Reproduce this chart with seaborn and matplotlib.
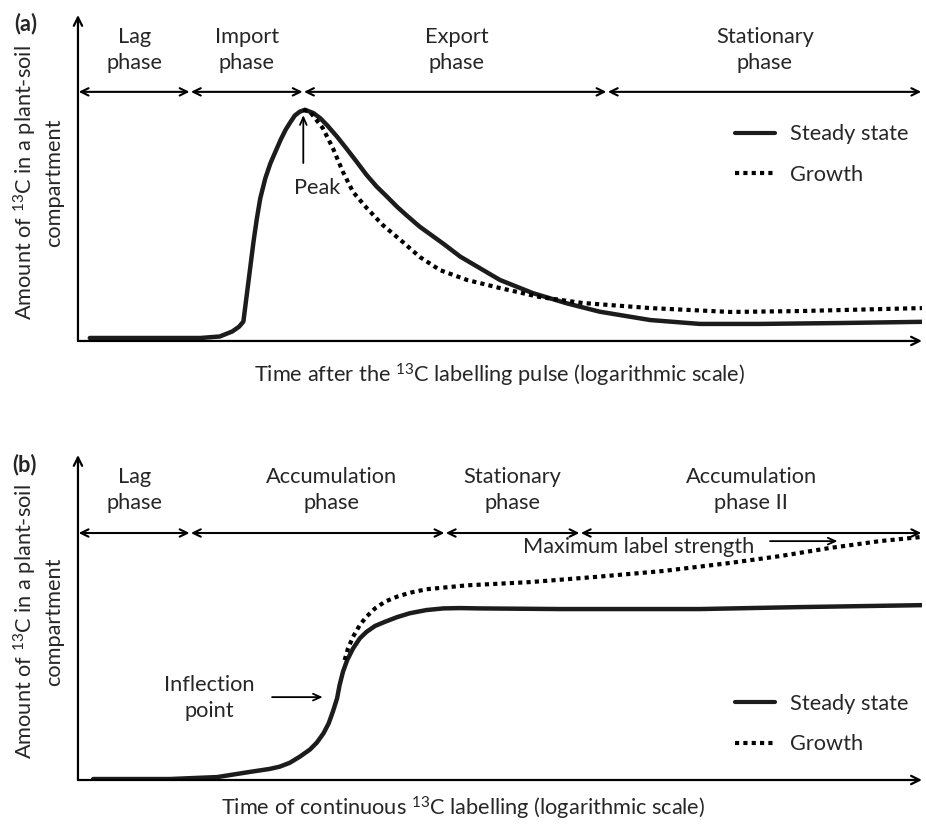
import matplotlib
matplotlib.use('Agg')
import matplotlib.pyplot as plt
import pandas as pd
import seaborn as sns

sns.set_theme(style='white')
plt.rcParams['font.family'] = ['Lato', 'DejaVu Sans']
plt.rcParams['mathtext.fontset'] = 'custom'
plt.rcParams['mathtext.rm'] = 'Lato'
plt.rcParams['mathtext.default'] = 'regular'

# (a) pulse labelling - arbitrary units (time 0..100, amount 0..109)
pulse_t = [1.4, 8.5, 14.5, 16.8, 18.3, 19.1, 19.6, 20.0, 20.4, 20.8, 21.2, 21.6, 22.2,
           22.8, 23.4, 24.0, 24.6, 25.2, 25.7, 26.3, 26.9, 27.9, 28.7, 29.5, 30.7,
           31.8, 33.0, 34.2, 35.4, 36.6, 37.8, 38.9, 40.5, 43.3, 45.3, 50.0, 53.9,
           57.9, 61.8, 67.8, 73.7, 80.8, 90.3, 100]
pulse_steady = [1.0, 1.0, 1.0, 1.5, 3.2, 4.8, 6.5, 15.4, 24.3, 33.2, 41.0, 47.7, 54.4,
                59.4, 63.3, 67.2, 70.6, 73.3, 75.4, 76.7, 77.3, 76.2, 74.5, 72.2, 68.3,
                64.4, 60.0, 55.5, 51.6, 48.3, 44.9, 42.1, 38.2, 32.5, 28.2, 20.4, 16.0,
                12.6, 9.8, 7.0, 5.7, 5.7, 6.0, 6.4]
pulse_growth_t = [26.7, 27.5, 29.0, 30.2, 31.4, 32.6, 34.2, 36.1, 38.2, 40.5, 42.9, 46.1,
                  50.0, 54.7, 59.8, 67.8, 77.3, 85.5, 100]
pulse_growth = [77.3, 76.6, 71.2, 64.5, 56.5, 49.8, 44.5, 38.8, 33.8, 28.1, 23.7, 20.4,
                17.7, 14.7, 12.7, 11.0, 9.7, 10.0, 11.0]
pulse_bounds = [0, 13.3, 26.7, 62.7, 100]
pulse_phases = ['Lag\nphase', 'Import\nphase', 'Export\nphase', 'Stationary\nphase']
pulse_label_x = [6.65, 20.0, 44.9, 81.4]

# (b) continuous labelling
cont_t = [1.8, 10.9, 16.5, 20.4, 22.7, 23.9, 25.1, 26.3, 27.5, 28.3, 29.1, 29.7, 30.2,
          30.7, 31.0, 31.4, 31.9, 32.6, 33.4, 34.2, 35.2, 36.4, 37.8, 39.3, 41.3, 43.3,
          45.3, 47.6, 57.1, 66.6, 73.7, 85.5, 100]
cont_steady = [0.3, 0.3, 0.9, 2.5, 3.4, 4.1, 5.3, 7.2, 9.4, 11.5, 14.4, 17.4, 21.0,
               25.1, 29.2, 33.3, 36.9, 40.5, 43.6, 45.6, 47.4, 48.7, 50.1, 51.3, 52.3,
               52.8, 52.9, 52.8, 52.6, 52.6, 52.6, 53.2, 53.8]
cont_growth_t = [31.6, 32.0, 32.6, 33.4, 34.2, 35.2, 36.4, 37.8, 39.3, 41.3, 43.7, 46.1,
                 53.6, 61.4, 69.3, 77.3, 83.2, 89.1, 95.0, 100]
cont_growth = [36.9, 40.5, 44.1, 47.7, 50.3, 52.8, 54.9, 56.4, 57.6, 58.7, 59.3, 59.9,
               60.9, 62.5, 64.3, 66.8, 68.9, 71.4, 73.5, 74.8]
cont_bounds = [0, 13.3, 43.5, 59.5, 100]
cont_phases = ['Lag\nphase', 'Accumulation\nphase', 'Stationary\nphase', 'Accumulation\nphase II']
cont_label_x = [6.65, 30.0, 51.5, 79.75]

FS = 15.7
LS = 1.35
INK = '#1c1c1c'
dots = (0, (1, 1))
head = '->,head_length=0.45,head_width=0.2'

fig = plt.figure(figsize=(9.26, 8.24), dpi=100)
ax_a = fig.add_axes([0.0842, 0.5862, 0.9114, 0.3956])
ax_b = fig.add_axes([0.0842, 0.0534, 0.9114, 0.3944])


def draw_panel(ax, ytop, t, steady, gt, growth, bounds, phases, label_x, phase_y,
               label_y, leg_y):
    df_s = pd.DataFrame({'t': t, 'v': steady})
    df_g = pd.DataFrame({'t': gt, 'v': growth})
    sns.lineplot(data=df_s, x='t', y='v', ax=ax, color=INK, lw=3.2, estimator=None,
                 sort=False, label='Steady state')
    sns.lineplot(data=df_g, x='t', y='v', ax=ax, color='black', lw=3.0, estimator=None,
                 sort=False, linestyle=dots, label='Growth')
    for line in ax.get_lines():
        line.set_solid_capstyle('round')
        line.set_solid_joinstyle('round')
        line.set_dash_capstyle('butt')
    ax.set_xlim(0, 100)
    ax.set_ylim(0, ytop)
    ax.set_xlabel('')
    ax.set_ylabel('')
    ax.set_xticks([])
    ax.set_yticks([])
    for s in ax.spines.values():
        s.set_visible(False)
    ax.patch.set_alpha(0)

    # axes with arrow heads
    ax.annotate('', xy=(0, ytop), xytext=(0, 0), annotation_clip=False,
                arrowprops=dict(arrowstyle='->,head_length=0.5,head_width=0.25', lw=1.6,
                                color='black', shrinkA=0, shrinkB=0))
    ax.annotate('', xy=(100, 0), xytext=(0, 0), annotation_clip=False,
                arrowprops=dict(arrowstyle='->,head_length=0.5,head_width=0.25', lw=1.6,
                                color='black', shrinkA=0, shrinkB=0))

    # phase arrows
    for x0, x1 in zip(bounds[:-1], bounds[1:]):
        ax.annotate('', xy=(x1, phase_y), xytext=(x0, phase_y), annotation_clip=False,
                    arrowprops=dict(arrowstyle='<->,head_length=0.45,head_width=0.22',
                                    lw=1.5, color='black', shrinkA=0.5, shrinkB=0.5))
    for x, name in zip(label_x, phases):
        ax.text(x, label_y, name, ha='center', va='center', fontsize=FS,
                linespacing=LS, clip_on=False)

    leg = ax.legend(loc='center left', bbox_to_anchor=(0.778, leg_y), frameon=False,
                    fontsize=FS, handlelength=1.85, handletextpad=0.7, labelspacing=0.95,
                    borderpad=0, borderaxespad=0)
    for h in leg.get_lines():
        h.set_linewidth(3)


draw_panel(ax_a, 109.0, pulse_t, pulse_steady, pulse_growth_t, pulse_growth, pulse_bounds,
           pulse_phases, pulse_label_x, 83.3, 97.3, 0.572)
draw_panel(ax_b, 100, cont_t, cont_steady, cont_growth_t, cont_growth, cont_bounds,
           cont_phases, cont_label_x, 76.0, 89.2, 0.172)

# annotations
ax_a.text(28.3, 51.2, 'Peak', ha='center', va='center', fontsize=FS)
ax_a.annotate('', xy=(26.7, 75.5), xytext=(26.7, 59.5),
              arrowprops=dict(arrowstyle=head, lw=1.3, color='black', shrinkA=0, shrinkB=0))
ax_b.text(15.6, 25.2, 'Inflection\npoint', ha='center', va='center', fontsize=FS,
          linespacing=LS)
ax_b.annotate('', xy=(29.0, 25.5), xytext=(23.0, 25.5),
              arrowprops=dict(arrowstyle=head, lw=1.3, color='black', shrinkA=0, shrinkB=0))
ax_b.text(66.4, 71.7, 'Maximum label strength', ha='center', va='center', fontsize=FS)
ax_b.annotate('', xy=(90.0, 73.5), xytext=(82.0, 73.5),
              arrowprops=dict(arrowstyle=head, lw=1.3, color='black', shrinkA=0, shrinkB=0))

ylab = 'Amount of $^{13}$C in a plant-soil\ncompartment'
fig.text(0.041, 0.778, ylab, rotation=90, ha='center', va='center', fontsize=FS,
         linespacing=1.3)
fig.text(0.041, 0.2451, ylab, rotation=90, ha='center', va='center', fontsize=FS,
         linespacing=1.3)
fig.text(0.540, 0.545, 'Time after the $^{13}$C labelling pulse (logarithmic scale)',
         ha='center', va='center', fontsize=FS)
fig.text(0.500, 0.019, 'Time of continuous $^{13}$C labelling (logarithmic scale)',
         ha='center', va='center', fontsize=FS)
fig.text(0.015, 0.971, '(a)', ha='left', va='center', fontsize=FS, fontweight='bold')
fig.text(0.013, 0.436, '(b)', ha='left', va='center', fontsize=FS, fontweight='bold')

fig.savefig('out.png', dpi=100)
